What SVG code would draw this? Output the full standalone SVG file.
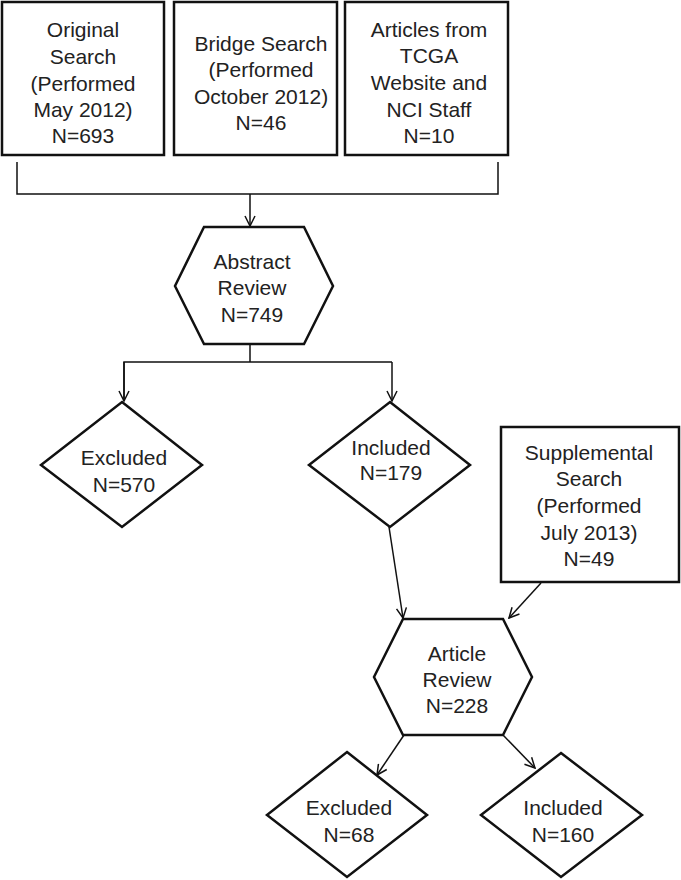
<svg xmlns="http://www.w3.org/2000/svg" width="681" height="880" viewBox="0 0 681 880">
<defs>
<style>
.shape{fill:#fff;stroke:#111;stroke-width:2.5;stroke-linejoin:miter}
.conn{fill:none;stroke:#111;stroke-width:1.5}
text{font-family:"Liberation Sans",Arial,sans-serif;font-size:21px;fill:#222;text-anchor:middle}
</style>
<marker id="arr" viewBox="0 0 12 12" refX="11" refY="6" markerWidth="12" markerHeight="12" markerUnits="userSpaceOnUse" orient="auto">
<polyline points="1,1 11,6 1,11" fill="none" stroke="#111" stroke-width="1.5"/>
</marker>
</defs>
<rect width="681" height="880" fill="#fff"/>
<g id="connectors">
<polyline class="conn" points="17,162 17,194 498,194 498,162"/>
<line class="conn" x1="250" y1="194" x2="250" y2="226" marker-end="url(#arr)"/>
<line class="conn" x1="250" y1="344" x2="250" y2="362"/>
<polyline class="conn" points="124,400 124,362 392,362"/>
<line class="conn" x1="124" y1="362" x2="124" y2="401" marker-end="url(#arr)"/>
<line class="conn" x1="392" y1="362" x2="392" y2="401" marker-end="url(#arr)"/>
<line class="conn" x1="389" y1="527" x2="403" y2="618" marker-end="url(#arr)"/>
<line class="conn" x1="541" y1="583" x2="509" y2="618" marker-end="url(#arr)"/>
<line class="conn" x1="404" y1="735" x2="377" y2="775" marker-end="url(#arr)"/>
<line class="conn" x1="503" y1="735" x2="535" y2="768" marker-end="url(#arr)"/>
</g>
<g id="original">
<rect class="shape" x="2" y="2" width="162" height="153"/>
<text x="83" y="37">Original</text>
<text x="83" y="64">Search</text>
<text x="83" y="91">(Performed</text>
<text x="83" y="117">May 2012)</text>
<text x="83" y="143">N=693</text>
</g>
<g id="bridge">
<rect class="shape" x="174" y="2" width="163" height="153"/>
<text x="261" y="51">Bridge Search</text>
<text x="261" y="77">(Performed</text>
<text x="261" y="104">October 2012)</text>
<text x="261" y="130">N=46</text>
</g>
<g id="articles">
<rect class="shape" x="345" y="2" width="163" height="153"/>
<text x="429" y="37">Articles from</text>
<text x="429" y="63">TCGA</text>
<text x="429" y="90">Website and</text>
<text x="429" y="117">NCI Staff</text>
<text x="429" y="143">N=10</text>
</g>
<g id="abstract-review">
<polygon class="shape" points="204,227 304,227 333,286 304,344 204,344 175,286"/>
<text x="252" y="269">Abstract</text>
<text x="252" y="295">Review</text>
<text x="252" y="322">N=749</text>
</g>
<g id="excluded1">
<polygon class="shape" points="122,402 202,465 122,527 41,465"/>
<text x="124" y="465">Excluded</text>
<text x="124" y="492">N=570</text>
</g>
<g id="included1">
<polygon class="shape" points="390,402 470,465 390,527 309,465"/>
<text x="391" y="455">Included</text>
<text x="391" y="480">N=179</text>
</g>
<g id="supplemental">
<rect class="shape" x="501" y="427" width="178" height="155"/>
<text x="589" y="460">Supplemental</text>
<text x="589" y="486">Search</text>
<text x="589" y="513">(Performed</text>
<text x="589" y="540">July 2013)</text>
<text x="589" y="566">N=49</text>
</g>
<g id="article-review">
<polygon class="shape" points="403,619 503,619 532,677 503,735 403,735 374,677"/>
<text x="457" y="661">Article</text>
<text x="457" y="687">Review</text>
<text x="457" y="713">N=228</text>
</g>
<g id="excluded2">
<polygon class="shape" points="347,752 427,815 347,877 267,815"/>
<text x="349" y="815">Excluded</text>
<text x="349" y="842">N=68</text>
</g>
<g id="included2">
<polygon class="shape" points="561,753 642,815 561,877 481,815"/>
<text x="563" y="815">Included</text>
<text x="563" y="842">N=160</text>
</g>
</svg>
